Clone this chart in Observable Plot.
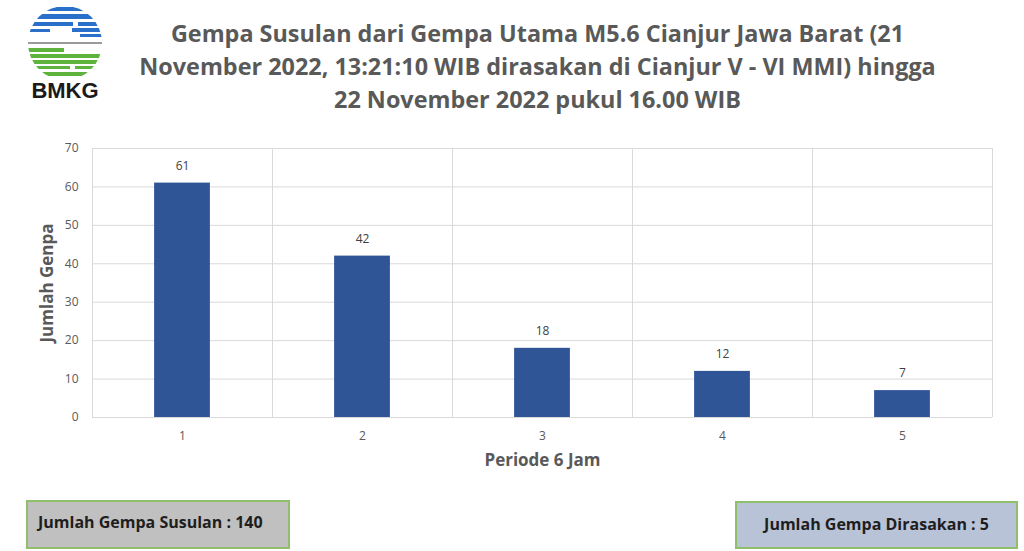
<!DOCTYPE html>
<html><head><meta charset="utf-8">
<script src="https://cdn.jsdelivr.net/npm/d3@7"></script>
<script src="https://cdn.jsdelivr.net/npm/@observablehq/plot@0.6"></script>
<style>
body{margin:0;background:#fff;width:1024px;height:551px;overflow:hidden;position:relative;font-family:"Open Sans",sans-serif;}
#title{position:absolute;left:90px;width:895px;top:17px;text-align:center;font-weight:700;font-size:23.4px;line-height:33px;color:#595959;}
#chart{position:absolute;left:0;top:130px;}
.box{position:absolute;border:2px solid #8fbf6a;font-weight:700;font-size:16px;color:#1e1e1e;box-sizing:border-box;}
#logo{position:absolute;left:20px;top:4px;}
</style></head>
<body>
<svg id="logo" width="92" height="100" viewBox="0 0 92 100">
  <defs><clipPath id="c"><circle cx="45" cy="39" r="37"/></clipPath></defs>
  <g clip-path="url(#c)">
    <rect x="20" y="3" width="50" height="4" fill="#2a6fc9"/>
    <rect x="12" y="10" width="66" height="5" fill="#2a6fc9"/>
    <rect x="8" y="18" width="45" height="4" fill="#2a6fc9"/>
    <rect x="58" y="18" width="30" height="4" fill="#2a6fc9"/>
    <rect x="8" y="25" width="22" height="3" fill="#2a6fc9"/>
    <rect x="52" y="24" width="36" height="4" fill="#2a6fc9"/>
    <rect x="60" y="30" width="28" height="3" fill="#2a6fc9"/>
    <rect x="4" y="38" width="84" height="2" fill="#9a9a9a"/>
    <rect x="4" y="44" width="40" height="4" fill="#5db33b"/>
    <rect x="4" y="50" width="84" height="4" fill="#5db33b"/>
    <rect x="4" y="56" width="84" height="4" fill="#5db33b"/>
    <rect x="10" y="62" width="40" height="3" fill="#5db33b"/>
    <rect x="55" y="62" width="30" height="3" fill="#5db33b"/>
    <rect x="20" y="68" width="50" height="4" fill="#5db33b"/>
  </g>
  <text x="45" y="94" text-anchor="middle" font-family="Liberation Sans, Arial, sans-serif" font-weight="700" font-size="22" fill="#1a1a1a">BMKG</text>
</svg>
<div id="title">Gempa Susulan dari Gempa Utama M5.6 Cianjur Jawa Barat (21<br>November 2022, 13:21:10 WIB dirasakan di Cianjur V - VI MMI) hingga<br>22 November 2022 pukul 16.00 WIB</div>
<div id="chart"></div>
<div class="box" style="left:26px;top:500px;width:264px;height:49px;background:#c0c0c0;padding:9px 0 0 10px;">Jumlah Gempa Susulan : 140</div>
<div class="box" style="left:735px;top:501px;width:283px;height:48px;background:#b9c3d7;text-align:center;padding-top:10px;">Jumlah Gempa Dirasakan : 5</div>
<script>
const periods = [1, 2, 3, 4, 5];
const counts = [61, 42, 18, 12, 7];
const yTicks = [0, 10, 20, 30, 40, 50, 60, 70];
const data = periods.map((p, i) => ({p, v: counts[i]}));
const bounds = [0.5, ...periods.map(p => p + 0.5)];
const half = 0.155;
const chart = Plot.plot({
  width: 1024, height: 350,
  marginLeft: 92, marginRight: 32, marginTop: 18, marginBottom: 63,
  style: {fontFamily: "Open Sans, sans-serif", fontSize: "12px", color: "#595959", background: "#fff"},
  x: {type: "linear", domain: [0.5, 5.5], ticks: periods, tickSize: 0, tickPadding: 14, tickFormat: d => String(d),
      label: "Periode 6 Jam", labelAnchor: "center", labelArrow: "none", labelOffset: 48},
  y: {domain: [0, 70], ticks: yTicks, tickSize: 0, tickPadding: 14, label: "Jumlah Genpa", labelAnchor: "center", labelArrow: "none", labelOffset: 52},
  marks: [
    Plot.ruleY(yTicks, {stroke: "#d9d9d9", strokeWidth: 1}),
    Plot.ruleX(bounds, {y1: 0, y2: 70, stroke: "#d9d9d9", strokeWidth: 1}),
    Plot.rectY(data, {x1: d => d.p - half, x2: d => d.p + half, y: "v", fill: "#2f5597"}),
    Plot.text(data, {x: "p", y: "v", text: d => String(d.v), dy: -17, fill: "#404040", fontSize: 12}),
  ]
});
document.getElementById("chart").appendChild(chart);
chart.querySelectorAll("g[aria-label='x-axis label'] text, g[aria-label='y-axis label'] text").forEach(t => {
  t.setAttribute("font-weight", "700"); t.setAttribute("font-size", "17");
});
</script>
</body></html>
